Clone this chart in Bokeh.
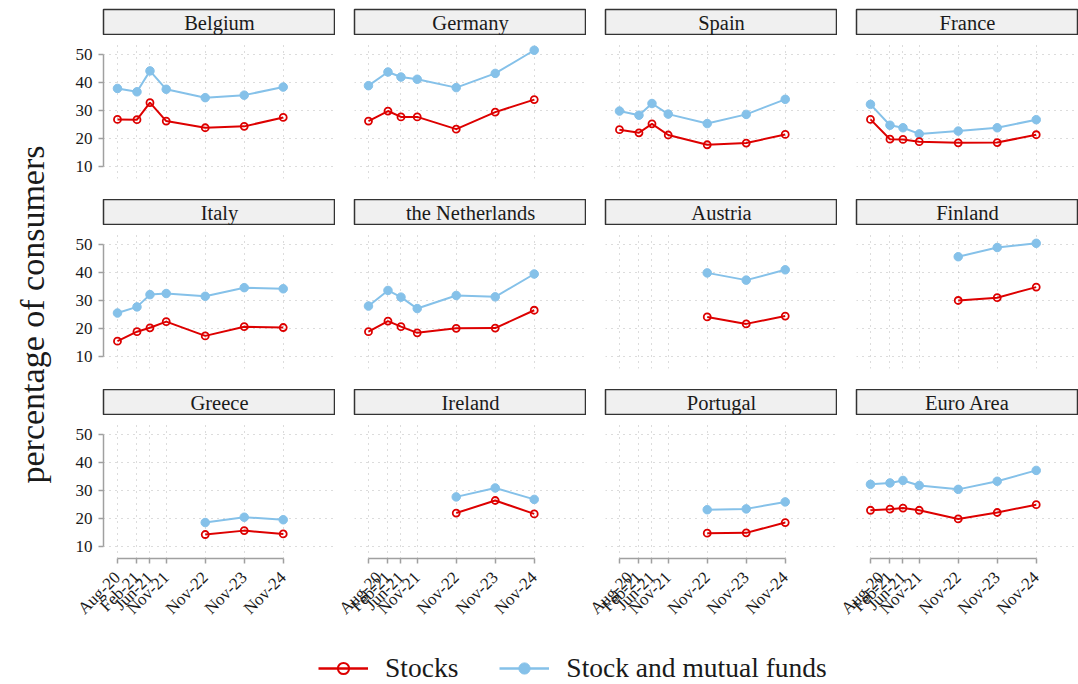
from math import pi

import pandas as pd
from bokeh.core.properties import value
from bokeh.embed import file_html
from bokeh.layouts import column, row
from bokeh.models import (AllLabels, FixedTicker, Label, Legend, LegendItem,
                          LinearAxis, Range1d)
from bokeh.plotting import figure
from bokeh.resources import INLINE

# ---- data -------------------------------------------------------------
waves = ["Aug-20", "Feb-21", "Jun-21", "Nov-21", "Nov-22", "Nov-23", "Nov-24"]
y_ticks = [10, 20, 30, 40, 50]

countries = ["Belgium", "Germany", "Spain", "France",
             "Italy", "the Netherlands", "Austria", "Finland",
             "Greece", "Ireland", "Portugal", "Euro Area"]

belgium_stocks = [26.8, 26.7, 32.8, 26.2, 23.8, 24.3, 27.5]
belgium_funds = [37.9, 36.7, 44.2, 37.6, 34.6, 35.5, 38.4]
germany_stocks = [26.2, 29.8, 27.7, 27.7, 23.3, 29.4, 33.9]
germany_funds = [38.9, 43.8, 42.0, 41.2, 38.2, 43.3, 51.6]
spain_stocks = [23.1, 22.0, 25.2, 21.2, 17.7, 18.3, 21.4]
spain_funds = [29.8, 28.3, 32.5, 28.7, 25.3, 28.6, 34.0]
france_stocks = [26.8, 19.7, 19.6, 18.8, 18.4, 18.5, 21.3]
france_funds = [32.2, 24.7, 23.8, 21.6, 22.6, 23.8, 26.7]
italy_stocks = [15.4, 18.8, 20.2, 22.4, 17.3, 20.6, 20.3]
italy_funds = [25.5, 27.7, 32.1, 32.5, 31.5, 34.6, 34.2]
netherlands_stocks = [18.8, 22.6, 20.6, 18.4, 20.0, 20.1, 26.5]
netherlands_funds = [28.0, 33.6, 31.2, 27.1, 31.8, 31.3, 39.5]
austria_stocks = [None, None, None, None, 24.1, 21.6, 24.4]
austria_funds = [None, None, None, None, 39.9, 37.3, 41.0]
finland_stocks = [None, None, None, None, 30.0, 31.0, 34.8]
finland_funds = [None, None, None, None, 45.7, 49.0, 50.5]
greece_stocks = [None, None, None, None, 14.2, 15.6, 14.4]
greece_funds = [None, None, None, None, 18.5, 20.4, 19.5]
ireland_stocks = [None, None, None, None, 21.9, 26.4, 21.6]
ireland_funds = [None, None, None, None, 27.7, 30.9, 26.8]
portugal_stocks = [None, None, None, None, 14.7, 14.8, 18.5]
portugal_funds = [None, None, None, None, 23.1, 23.4, 25.9]
euro_stocks = [22.9, 23.3, 23.7, 22.9, 19.8, 22.1, 24.9]
euro_funds = [32.2, 32.7, 33.6, 31.8, 30.4, 33.3, 37.2]

stocks_by_panel = [belgium_stocks, germany_stocks, spain_stocks, france_stocks,
                   italy_stocks, netherlands_stocks, austria_stocks, finland_stocks,
                   greece_stocks, ireland_stocks, portugal_stocks, euro_stocks]
funds_by_panel = [belgium_funds, germany_funds, spain_funds, france_funds,
                  italy_funds, netherlands_funds, austria_funds, finland_funds,
                  greece_funds, ireland_funds, portugal_funds, euro_funds]

# ---- styling ----------------------------------------------------------
FONT = "Liberation Serif"
RED = "#dd0000"
BLUE = "#85c1e9"
GRID = "#b8b8b8"
AXIS = "#a0a0a0"
TEXT = "#1a1a1a"

# month offsets of each survey wave, counted from the first one
dates = pd.to_datetime(waves, format="%b-%y")
months = [(d.year - dates[0].year) * 12 + d.month - dates[0].month for d in dates]

X_START = -4.3
PX_PER_MONTH = 3.25
Y_RANGE = (5.6, 55.1)
FRAME_H = 138
STRIP_H = 26
BOTTOM_AXIS_H = 68


def clean(xs, ys):
    pts = [(x, y) for x, y in zip(xs, ys) if y is not None]
    return [p[0] for p in pts], [p[1] for p in pts]


def make_panel(name, stocks, funds, col, r):
    left = 43 if col == 0 else 19
    fw = 222 if col == 3 else 232
    x_end = X_START + fw / PX_PER_MONTH

    strip = figure(frame_width=fw, frame_height=STRIP_H,
                   x_range=Range1d(0, 1), y_range=Range1d(0, 1),
                   x_axis_location=None, y_axis_location=None,
                   toolbar_location=None, output_backend="svg",
                   min_border_left=left, min_border_right=0,
                   min_border_top=9 if r == 0 else 0, min_border_bottom=0,
                   background_fill_color="#f0f0f0", border_fill_color="white",
                   outline_line_color="#333333", outline_line_width=1.5)
    strip.grid.visible = False
    strip.text(x=[0.5], y=[0.5], text=[name], text_align="center",
               text_baseline="middle", text_font=value(FONT),
               text_font_size="20.5px", text_color=TEXT)

    p = figure(frame_width=fw, frame_height=FRAME_H,
               x_range=Range1d(X_START, x_end), y_range=Range1d(*Y_RANGE),
               x_axis_location=None, y_axis_location=None,
               toolbar_location=None, output_backend="svg",
               min_border_left=left, min_border_right=0,
               min_border_top=5, min_border_bottom=BOTTOM_AXIS_H if r == 2 else 21,
               outline_line_color=None, background_fill_color="white",
               border_fill_color="white")
    p.xgrid.ticker = FixedTicker(ticks=months)
    p.ygrid.ticker = FixedTicker(ticks=y_ticks)
    for g in (p.xgrid, p.ygrid):
        g.grid_line_color = GRID
        g.grid_line_dash = "1 5"
        g.grid_line_width = 1

    if col == 0:
        ya = LinearAxis(ticker=FixedTicker(ticks=y_ticks), bounds=(10, 50),
                        axis_line_color=AXIS, axis_line_width=1.5,
                        major_tick_line_color=AXIS, major_tick_line_width=1.5,
                        major_tick_in=0, major_tick_out=5,
                        minor_tick_line_color=None, major_label_standoff=6,
                        major_label_text_font=FONT,
                        major_label_text_font_size="17px",
                        major_label_text_color=TEXT)
        p.add_layout(ya, "left")
    if r == 2:
        xa = LinearAxis(ticker=FixedTicker(ticks=months),
                        bounds=(months[0], months[-1]),
                        major_label_overrides={m: w for m, w in zip(months, waves)},
                        major_label_orientation=pi / 4,
                        major_label_policy=AllLabels(),
                        axis_line_color=AXIS, axis_line_width=1.5,
                        major_tick_line_color=AXIS, major_tick_line_width=1.5,
                        major_tick_in=0, major_tick_out=5,
                        minor_tick_line_color=None, major_label_standoff=11,
                        major_label_text_font=FONT,
                        major_label_text_font_size="17px",
                        major_label_text_color=TEXT)
        p.add_layout(xa, "below")

    fx, fy = clean(months, funds)
    p.line(fx, fy, line_color=BLUE, line_width=2)
    p.scatter(fx, fy, marker="circle", size=8.5, fill_color=BLUE, line_color=BLUE)

    sx, sy = clean(months, stocks)
    p.line(sx, sy, line_color=RED, line_width=2)
    p.scatter(sx, sy, marker="circle", size=7, fill_color=None,
              line_color=RED, line_width=1.8)

    return column(strip, p)


grid_rows = []
for r in range(3):
    cells = []
    for c in range(4):
        i = r * 4 + c
        cells.append(make_panel(countries[i], stocks_by_panel[i], funds_by_panel[i], c, r))
    grid_rows.append(row(*cells))
panels = column(*grid_rows)

# y axis title shared by all panels
PANEL_H = 9 + 3 * (STRIP_H + 5 + FRAME_H) + 2 * 21 + BOTTOM_AXIS_H
ylab = figure(width=60, height=PANEL_H, x_range=Range1d(0, 1), y_range=Range1d(0, 1),
              x_axis_location=None, y_axis_location=None, toolbar_location=None,
              output_backend="svg", min_border=0, outline_line_color=None)
ylab.grid.visible = False
ylab.add_layout(Label(x=32, y=PANEL_H - 314, x_units="screen", y_units="screen",
                      text="percentage of consumers", angle=pi / 2,
                      text_align="center", text_baseline="middle",
                      text_font=FONT, text_font_size="34px", text_color=TEXT))

# shared legend at the bottom; proxy renderers hold no drawable point
nan = float("nan")
LEG_H = 684 - PANEL_H
leg = figure(width=1078, height=LEG_H, x_range=Range1d(0, 1), y_range=Range1d(0, 1),
             x_axis_location=None, y_axis_location=None, toolbar_location=None,
             output_backend="svg", min_border=0, outline_line_color=None)
leg.grid.visible = False
r_sl = leg.line(x=[nan, nan], y=[nan, nan], line_color=RED, line_width=2.5)
r_sm = leg.scatter(x=[nan], y=[nan], marker="circle", size=8, fill_color=None,
                   line_color=RED, line_width=2)
r_fl = leg.line(x=[nan, nan], y=[nan, nan], line_color=BLUE, line_width=2.5)
r_fm = leg.scatter(x=[nan], y=[nan], marker="circle", size=10, fill_color=BLUE,
                   line_color=BLUE)
legend = Legend(items=[LegendItem(label="Stocks", renderers=[r_sl, r_sm]),
                       LegendItem(label="Stock and mutual funds", renderers=[r_fl, r_fm])],
                orientation="horizontal", location=(318, 1),
                padding=0, margin=0, spacing=41, glyph_width=50, glyph_height=28,
                label_standoff=17, label_text_font=FONT,
                label_text_font_size="27.5px", label_text_color=TEXT,
                border_line_color=None, background_fill_alpha=0)
leg.add_layout(legend, "center")

layout = column(row(ylab, panels), leg)

open("out.html", "w").write(file_html(layout, INLINE))
